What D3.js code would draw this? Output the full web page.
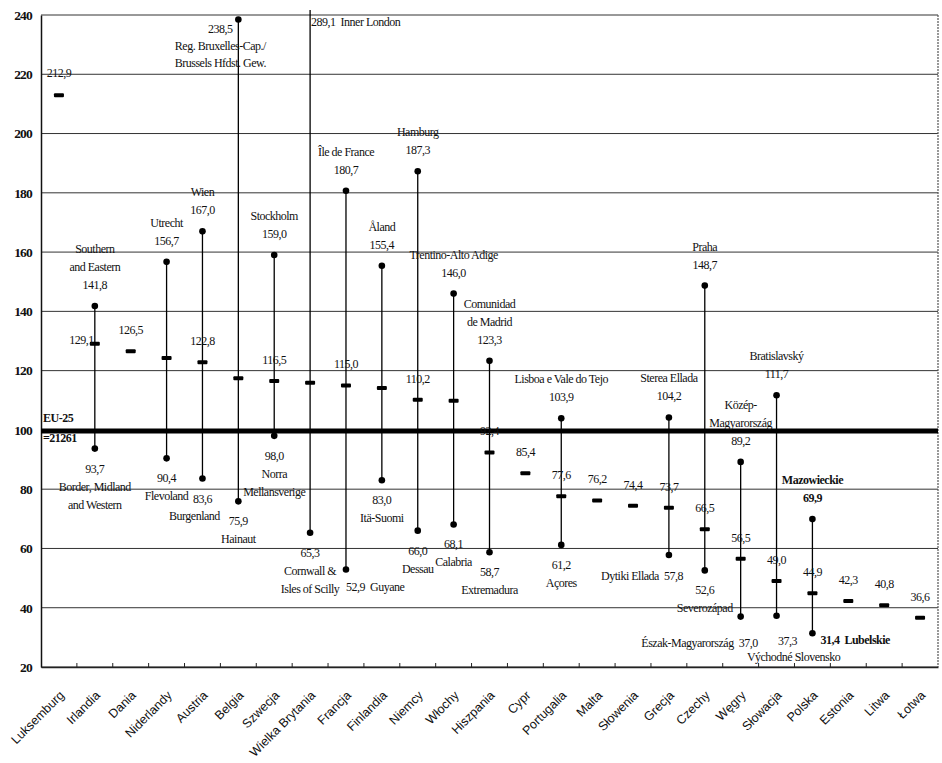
<!DOCTYPE html>
<html><head><meta charset="utf-8">
<script src="https://cdn.jsdelivr.net/npm/d3@7/dist/d3.min.js"></script>
<style>
html,body{margin:0;padding:0;background:#fff;}
svg{display:block;}
.ann{font-family:"Liberation Serif","Times New Roman",serif;font-size:12px;fill:#111;letter-spacing:-0.5px;white-space:pre;}
.ann.b{font-weight:bold;}
</style></head>
<body>
<svg id="c" width="942" height="763"></svg>
<script>
// ---- data ----
const countries = ["Luksemburg","Irlandia","Dania","Niderlandy","Austria","Belgia","Szwecja","Wielka Brytania","Francja","Finlandia","Niemcy","Włochy","Hiszpania","Cypr","Portugalia","Malta","Słowenia","Grecja","Czechy","Węgry","Słowacja","Polska","Estonia","Litwa","Łotwa"];
const nationalAvg = [212.9,129.1,126.5,124.3,122.8,117.4,116.5,115.9,115.0,114.1,110.2,109.8,92.4,85.4,77.6,76.2,74.4,73.7,66.5,56.5,49.0,44.9,42.3,40.8,36.6];
const avgLabelShown = [true,true,true,false,true,false,true,false,true,false,true,false,true,true,true,true,true,true,true,true,true,true,true,true,true];
const maxValue = [null,141.8,null,156.7,167.0,238.5,159.0,289.1,180.7,155.4,187.3,146.0,123.3,null,103.9,null,null,104.2,148.7,89.2,111.7,69.9,null,null,null];
const maxRegion = [null,"Southern\nand Eastern",null,"Utrecht","Wien","Reg. Bruxelles-Cap./\nBrussels Hfdst. Gew.","Stockholm","Inner London","Île de France","Åland","Hamburg","Trentino-Alto Adige","Comunidad\nde Madrid",null,"Lisboa e Vale do Tejo",null,null,"Sterea Ellada","Praha","Közép-\nMagyarország","Bratislavský","Mazowieckie",null,null,null];
const minValue = [null,93.7,null,90.4,83.6,75.9,98.0,65.3,52.9,83.0,66.0,68.1,58.7,null,61.2,null,null,57.8,52.6,37.0,37.3,31.4,null,null,null];
const minRegion = [null,"Border, Midland\nand Western",null,"Flevoland","Burgenland","Hainaut","Norra\nMellansverige","Cornwall &\nIsles of Scilly","Guyane","Itä-Suomi","Dessau","Calabria","Extremadura",null,"Açores",null,null,"Dytiki Ellada","Severozápad","Észak-Magyarország","Východné Slovensko","Lubelskie",null,null,null];
const yTicks = [20,40,60,80,100,120,140,160,180,200,220,240];
const euLevel = 100;
const euLabel = ["EU-25","=21261"];

// ---- layout ----
const L = 41, R = 938, T = 15, B = 667;
const svg = d3.select("#c");
const x = d3.scaleBand().domain(countries).range([L, R]);
const y = d3.scaleLinear().domain([20, 240]).range([B, T]);
const fmt = v => d3.format(".1f")(v).replace(".", ",");
const cx = i => x(countries[i]) + x.bandwidth() / 2;

// gridlines
svg.append("g").selectAll("line").data(yTicks).join("line")
  .attr("x1", L).attr("x2", R).attr("y1", d => y(d)).attr("y2", d => y(d))
  .attr("stroke", "#333").attr("stroke-width", 1);
// right border (stippled)
svg.append("line").attr("x1", R).attr("x2", R).attr("y1", T).attr("y2", B)
  .attr("stroke", "#555").attr("stroke-width", 1.2).attr("stroke-dasharray", "2,1");

// y axis
const yAxis = svg.append("g").attr("transform", `translate(${L},0)`)
  .call(d3.axisLeft(y).tickValues(yTicks).tickSize(0).tickPadding(9).tickFormat(d3.format("d")));
yAxis.select(".domain").attr("stroke", "#111").attr("stroke-width", 1.5);
yAxis.selectAll("text").attr("font-family", "Liberation Serif, serif").attr("font-weight", "bold")
  .attr("font-size", 13.5).attr("letter-spacing", "-0.8px").attr("fill", "#111");

// x axis
const xAxis = svg.append("g").attr("transform", `translate(0,${B})`)
  .call(d3.axisBottom(x).tickSize(0).tickPadding(0));
xAxis.select(".domain").attr("stroke", "#222").attr("stroke-width", 1.3);
xAxis.selectAll("text")
  .attr("font-family", "Liberation Sans, Arial, sans-serif").attr("font-size", 12.5).attr("fill", "#111")
  .attr("text-anchor", "end").attr("dy", 0)
  .attr("transform", "translate(6,29) rotate(-45)");
// boundary ticks
svg.append("g").selectAll("line").data(countries.slice(1)).join("line")
  .attr("x1", d => x(d)).attr("x2", d => x(d)).attr("y1", B).attr("y2", B - 4)
  .attr("stroke", "#222").attr("stroke-width", 1);

// EU line
svg.append("line").attr("x1", L).attr("x2", R).attr("y1", y(euLevel) + 1).attr("y2", y(euLevel) + 1)
  .attr("stroke", "#000").attr("stroke-width", 5);
svg.append("text").attr("class", "ann b").attr("x", L + 2).attr("y", y(euLevel) - 8)
  .attr("font-size", 13).text(euLabel[0]);
svg.append("text").attr("class", "ann b").attr("x", L + 2).attr("y", y(euLevel) + 12)
  .attr("font-size", 13).text(euLabel[1]);

// vertical ranges
const idx = d3.range(countries.length);
const rng = idx.filter(i => maxValue[i] != null);
svg.append("g").selectAll("line").data(rng).join("line")
  .attr("x1", cx).attr("x2", cx)
  .attr("y1", i => y(minValue[i]))
  .attr("y2", i => Math.max(y(maxValue[i]), T - 5))
  .attr("stroke", "#000").attr("stroke-width", 1.3);
// dots
const dotPts = [];
rng.forEach(i => { if (maxValue[i] <= 240) dotPts.push([i, maxValue[i]]); dotPts.push([i, minValue[i]]); });
svg.append("g").selectAll("circle").data(dotPts).join("circle")
  .attr("cx", d => cx(d[0])).attr("cy", d => y(d[1])).attr("r", 3.3).attr("fill", "#000");
// national average dashes
svg.append("g").selectAll("rect").data(idx).join("rect")
  .attr("x", i => cx(i) - 5).attr("y", i => y(nationalAvg[i]) - 2)
  .attr("width", 10).attr("height", 4).attr("rx", 1).attr("fill", "#000");

// ---- annotation placement (layout only) ----
const SP = 18;
function block(lines, px, py, opt) {
  const g = svg.append("g");
  lines.forEach((t, k) => {
    g.append("text").attr("class", "ann" + (opt.bold ? " b" : ""))
      .attr("x", px + (opt.dxs ? opt.dxs[k] : 0))
      .attr("y", py + k * (opt.sp || SP) + 4)
      .attr("text-anchor", opt.anchor || "middle").text(t);
  });
}
// average labels
idx.filter(i => avgLabelShown[i]).forEach(i => {
  const px = cx(i), py = y(nationalAvg[i]);
  if (countries[i] === "Irlandia") block([fmt(nationalAvg[i])], px - 1, py - 4, {anchor: "end"});
  else if (countries[i] === "Luksemburg") block([fmt(nationalAvg[i])], px, py - 22, {});
  else block([fmt(nationalAvg[i])], px, py - 21, {});
});
// max labels
rng.forEach(i => {
  const c = countries[i], px = cx(i), py = y(Math.min(maxValue[i], 240));
  const reg = maxRegion[i].split("\n"), v = fmt(maxValue[i]);
  if (c === "Belgia") block([v, ...reg], px - 18, py + 10, {sp: 17});
  else if (c === "Wielka Brytania") block([v + "  " + reg[0]], px + 1, T + 7, {anchor: "start"});
  else {
    const lines = [...reg, v];
    block(lines, px, py - 21 - (lines.length - 1) * SP, {bold: c === "Polska"});
  }
});
// min labels
rng.forEach(i => {
  const c = countries[i], px = cx(i), py = y(minValue[i]);
  const reg = minRegion[i].split("\n"), v = fmt(minValue[i]);
  if (c === "Francja") block([v + "  " + reg[0]], px, py + 18, {anchor: "start"});
  else if (c === "Grecja") block([reg[0] + "  " + v], px + 14, py + 21, {anchor: "end"});
  else if (c === "Węgry") block([reg[0] + "  " + v], px + 17, py + 26, {anchor: "end"});
  else if (c === "Słowacja") block([v, reg[0]], px, py + 25, {dxs: [11, 17], sp: 16});
  else if (c === "Polska") block([v + "  " + reg[0]], px + 8, py + 7, {anchor: "start", bold: true});
  else if (c === "Austria") block([v, reg[0]], px, py + 20, {dxs: [0, -8], sp: 17});
  else block([v, ...reg], px, py + 20, {});
});
</script>
</body></html>
